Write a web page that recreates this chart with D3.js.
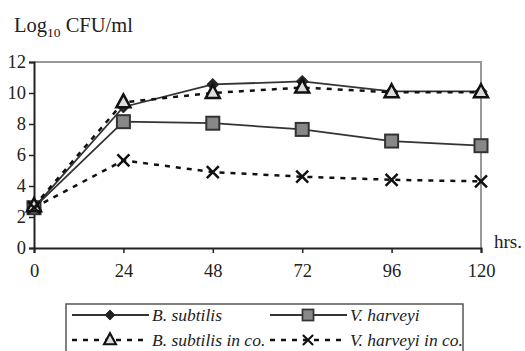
<!DOCTYPE html>
<html>
<head>
<meta charset="utf-8">
<script src="https://cdn.jsdelivr.net/npm/d3@7"></script>
<style>
  body { margin: 0; background: #fff; }
  svg text { font-family: "Liberation Serif", "DejaVu Serif", serif; fill: #222; }
</style>
</head>
<body>
<script>
var hours = [0, 24, 48, 72, 96, 120];
var yTicks = [0, 2, 4, 6, 8, 10, 12];
var bSubtilis = [2.6, 9.1, 10.55, 10.75, 10.1, 10.1];
var vHarveyi = [2.6, 8.15, 8.05, 7.65, 6.9, 6.6];
var bSubtilisCo = [2.7, 9.4, 10.0, 10.35, 10.05, 10.05];
var vHarveyiCo = [2.6, 5.65, 4.9, 4.6, 4.4, 4.3];

var seriesNames = ["B. subtilis", "V. harveyi", "B. subtilis in co.", "V. harveyi in co."];

var width = 525, height = 351;
var serif = "'Liberation Serif', 'DejaVu Serif', serif";

var svg = d3.select("body").append("svg")
  .attr("width", width)
  .attr("height", height)
  .attr("font-family", serif);

var x = d3.scaleLinear().domain([0, 120]).range([34, 481]);
var y = d3.scaleLinear().domain([0, 12]).range([248, 62]);

// gray frame top & right
svg.append("path")
  .attr("d", "M" + x(0) + "," + y(12) + "H" + x(120) + "V" + y(0))
  .attr("fill", "none").attr("stroke", "#999").attr("stroke-width", 2);

var yAxis = svg.append("g")
  .attr("transform", "translate(" + x(0) + ",0)")
  .call(d3.axisLeft(y).tickValues(yTicks).tickSize(5).tickPadding(3));
var xAxis = svg.append("g")
  .attr("transform", "translate(0," + y(0) + ")")
  .call(d3.axisBottom(x).tickValues(hours).tickSize(5).tickPadding(11));

[yAxis, xAxis].forEach(function (g) {
  g.attr("font-family", serif).attr("font-size", 18.5);
  g.select(".domain").attr("stroke", "#222").attr("stroke-width", 2);
  g.selectAll(".tick line").attr("stroke", "#222").attr("stroke-width", 1.5);
  g.selectAll(".tick text").attr("fill", "#222");
});

// axis titles
var t = svg.append("text").attr("x", 14).attr("y", 32).attr("font-size", 20.5);
t.append("tspan").text("Log");
t.append("tspan").attr("dy", 5).attr("font-size", 13.5).text("10");
t.append("tspan").attr("dy", -5).text(" CFU/ml");

svg.append("text").attr("x", 494).attr("y", 248).attr("font-size", 19).text("hrs.");

var series = [
  { name: seriesNames[0], values: bSubtilis, dash: null, marker: "diamond" },
  { name: seriesNames[1], values: vHarveyi, dash: null, marker: "square" },
  { name: seriesNames[2], values: bSubtilisCo, dash: "5,6", marker: "triangle" },
  { name: seriesNames[3], values: vHarveyiCo, dash: "5,6", marker: "cross" }
];

var line = d3.line()
  .x(function (d, i) { return x(hours[i]); })
  .y(function (d) { return y(d); });

function drawMarker(g, type, cx, cy, k) {
  var m = g.append("g").attr("transform", "translate(" + cx + "," + cy + ") scale(" + k + ")");
  if (type === "diamond") {
    m.append("path").attr("d", d3.symbol().type(d3.symbolDiamond2).size(90)())
      .attr("fill", "#222").attr("stroke", "#222");
  } else if (type === "square") {
    m.append("rect").attr("x", -6.5).attr("y", -6.5)
      .attr("width", 13).attr("height", 13)
      .attr("fill", "#888").attr("stroke", "#333").attr("stroke-width", 2);
  } else if (type === "triangle") {
    m.append("path").attr("d", "M0,-8L7,5L-7,5Z")
      .attr("fill", "#ddd").attr("stroke", "#111").attr("stroke-width", 2.5);
  } else {
    m.append("path").attr("d", "M-6,-6L6,6M-6,6L6,-6")
      .attr("stroke", "#111").attr("stroke-width", 2.5);
  }
}

series.forEach(function (s) {
  var g = svg.append("g");
  g.append("path").datum(s.values)
    .attr("d", line)
    .attr("fill", "none")
    .attr("stroke", s.dash ? "#111" : "#333")
    .attr("stroke-width", s.dash ? 2.5 : 1.8)
    .attr("stroke-dasharray", s.dash);
  s.values.forEach(function (v, i) {
    drawMarker(g, s.marker, x(hours[i]), y(v), 1);
  });
});

// legend
var leg = svg.append("g");
leg.append("rect").attr("x", 66).attr("y", 304).attr("width", 397).attr("height", 52)
  .attr("fill", "#fff").attr("stroke", "#555").attr("stroke-width", 1.5);

var legPos = [[72, 315], [270, 315], [72, 340], [270, 340]];
series.forEach(function (s, i) {
  var lx = legPos[i][0], ly = legPos[i][1];
  leg.append("line").attr("x1", lx).attr("x2", lx + 77).attr("y1", ly).attr("y2", ly)
    .attr("stroke", s.dash ? "#111" : "#333")
    .attr("stroke-width", s.dash ? 2.5 : 1.8)
    .attr("stroke-dasharray", s.dash);
  drawMarker(leg, s.marker, lx + 38, ly, 0.85);
  leg.append("text").attr("x", lx + 80).attr("y", ly + 6)
    .attr("font-size", 17.5).attr("font-style", "italic").text(s.name);
});
</script>
</body>
</html>
